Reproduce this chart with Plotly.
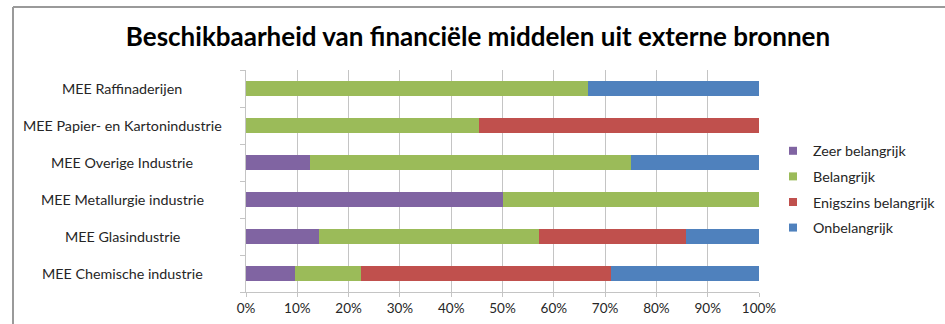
import plotly.graph_objects as go

categories = [
    "MEE Chemische industrie",
    "MEE Glasindustrie",
    "MEE Metallurgie industrie",
    "MEE Overige Industrie",
    "MEE Papier- en Kartonindustrie",
    "MEE Raffinaderijen",
]
zeer_belangrijk = [9.6, 14.3, 50.0, 12.5, 0.0, 0.0]
belangrijk = [12.9, 42.9, 50.0, 62.5, 45.5, 66.7]
enigszins_belangrijk = [48.6, 28.6, 0.0, 0.0, 54.5, 0.0]
onbelangrijk = [28.9, 14.2, 0.0, 25.0, 0.0, 33.3]
x_ticks = [0, 10, 20, 30, 40, 50, 60, 70, 80, 90, 100]
x_tick_labels = ["0%", "10%", "20%", "30%", "40%", "50%", "60%", "70%", "80%", "90%", "100%"]

series = [
    ("Zeer belangrijk", zeer_belangrijk, "#8064A2"),
    ("Belangrijk", belangrijk, "#9BBB59"),
    ("Enigszins belangrijk", enigszins_belangrijk, "#C0504D"),
    ("Onbelangrijk", onbelangrijk, "#4F81BD"),
]

font_family = "Lato, 'Open Sans', sans-serif"
text_col = "#262626"

fig = go.Figure()
for i, (name, vals, col) in enumerate(series):
    fig.add_trace(go.Bar(
        y=categories, x=vals, name=name, orientation="h",
        marker=dict(color=col, line=dict(width=0)),
        showlegend=False, legendgroup=f"g{i}",
    ))
# legend entries with small square swatches
for i, (name, vals, col) in enumerate(series):
    fig.add_trace(go.Scatter(
        x=[None], y=[None], mode="markers", name=name,
        marker=dict(symbol="square", size=8, color=col),
        legendgroup=f"g{i}", showlegend=True,
    ))

W, H = 945, 324
L, R, T, B = 246, 186, 70, 32
pw = W - L - R
ph = H - T - B

# category labels centered like the original
for c in categories:
    fig.add_annotation(x=(122 - L) / pw, xref="paper", y=c, yref="y",
                       text=c, showarrow=False, xanchor="center",
                       font=dict(family=font_family, size=14.3, color=text_col))

# outer chart border (left and top edges visible in the crop)
bx0 = (13 - L) / pw
by1 = (H - 7 - B) / ph
fig.add_shape(type="line", xref="paper", yref="paper",
              x0=bx0, x1=(1000 - L) / pw, y0=by1, y1=by1,
              line=dict(color="#9a9a9a", width=2), layer="below")
fig.add_shape(type="line", xref="paper", yref="paper",
              x0=bx0, x1=bx0, y0=(H - 400 - B) / ph, y1=by1,
              line=dict(color="#9a9a9a", width=2), layer="below")

fig.update_layout(
    width=W, height=H,
    margin=dict(l=L, r=R, t=T, b=B, autoexpand=False),
    barmode="stack", bargap=0.62,
    plot_bgcolor="white", paper_bgcolor="white",
    font=dict(family=font_family, size=13, color=text_col),
    title=dict(text="<b>Beschikbaarheid van financiële middelen uit externe bronnen</b>",
               x=478 / W, xref="container", xanchor="center",
               y=1 - 37 / H, yref="container", yanchor="middle",
               font=dict(family="Lato, sans-serif", size=26, color="#000")),
    xaxis=dict(range=[0, 100], tickvals=x_ticks, ticktext=x_tick_labels,
               showgrid=True, gridcolor="#c4c4c4", gridwidth=1,
               showline=True, linecolor="#c4c4c4", linewidth=1,
               ticks="outside", ticklen=4, tickcolor="#c4c4c4",
               zeroline=False, tickfont=dict(size=13.5, color=text_col)),
    yaxis=dict(type="category", tickson="boundaries", showticklabels=False,
               showline=True, linecolor="#c4c4c4", linewidth=1,
               ticks="outside", ticklen=5, tickcolor="#c4c4c4",
               showgrid=False, zeroline=False),
    legend=dict(xref="container", yref="container",
                x=773 / W, xanchor="left", y=1 - 135 / H, yanchor="top",
                traceorder="grouped", tracegroupgap=4,
                font=dict(family=font_family, size=14.3, color=text_col),
                itemwidth=30, bgcolor="rgba(0,0,0,0)"),
    showlegend=True,
)

fig.write_html(
    "out.html", config={"displayModeBar": False},
    post_script=("document.body.style.margin='0';"
                 "document.body.style.overflow='hidden';"
                 "document.documentElement.style.overflow='hidden';"),
)
